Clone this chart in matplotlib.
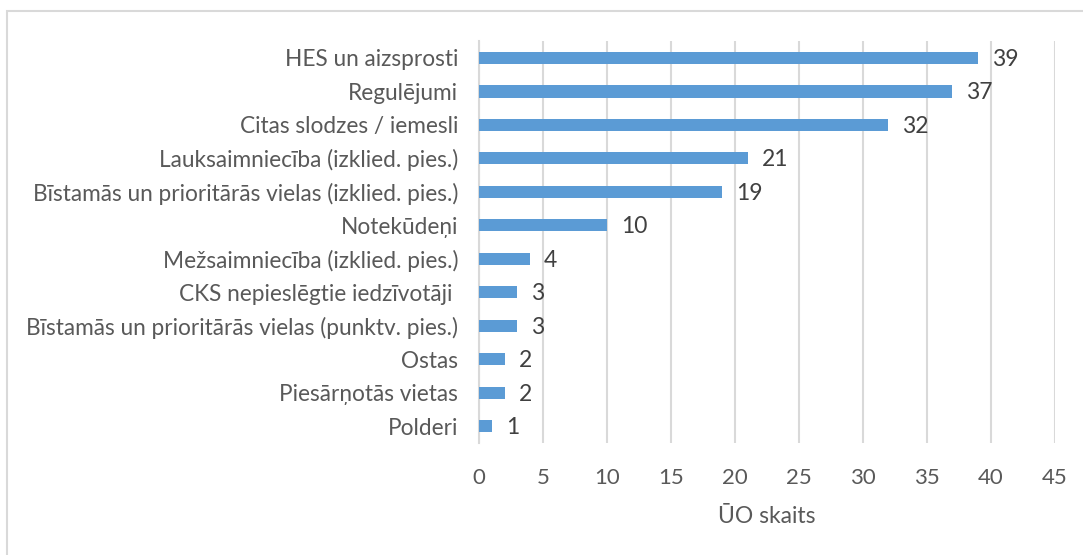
import numpy as np
import matplotlib
matplotlib.use("Agg")
import matplotlib.pyplot as plt
from matplotlib.patches import Rectangle

# data, top to bottom as in the chart
categories = [
    "HES un aizsprosti",
    "Regulējumi",
    "Citas slodzes / iemesli",
    "Lauksaimniecība (izklied. pies.)",
    "Bīstamās un prioritārās vielas (izklied. pies.)",
    "Notekūdeņi",
    "Mežsaimniecība (izklied. pies.)",
    "CKS nepieslēgtie iedzīvotāji ",
    "Bīstamās un prioritārās vielas (punktv. pies.)",
    "Ostas",
    "Piesārņotās vietas",
    "Polderi",
]
counts = [39, 37, 32, 21, 19, 10, 4, 3, 3, 2, 2, 1]
xticks = [0, 5, 10, 15, 20, 25, 30, 35, 40, 45]

plt.rcParams['font.family'] = ['Lato', 'DejaVu Sans']

fig = plt.figure(figsize=(10.83, 5.55), dpi=100)
ax = fig.add_axes([0.4423, 0.2018, 0.974 - 0.4423, 0.926 - 0.2018])

# outer frame like the office chart border
fig.patches.append(Rectangle((7 / 1083, -0.1), 1.2, 1 - 11 / 555 + 0.1,
                             transform=fig.transFigure, fill=False,
                             edgecolor='#d9d9d9', linewidth=1.5))

y = np.arange(len(categories))
ax.barh(y, counts, height=0.37, color='#5B9BD5', zorder=3)
for yi, v in zip(y, counts):
    ax.annotate(str(v), (v, yi), xytext=(10, -1), textcoords='offset points',
                va='center', ha='left', fontsize=16.5, color='#404040')

ax.set_ylim(len(categories) - 0.5, -0.5)
ax.set_xlim(0, 45)
ax.set_yticks(y)
ax.set_yticklabels(categories, fontsize=16.3, color='#595959')
ax.set_xticks(xticks)
ax.set_xticklabels([str(t) for t in xticks], fontsize=16, color='#595959')
ax.tick_params(axis='both', length=0)
ax.tick_params(axis='x', pad=18)
ax.tick_params(axis='y', pad=15)
ax.grid(axis='x', color='#d9d9d9', linewidth=1.5, zorder=0)
for s in ['top', 'right', 'bottom']:
    ax.spines[s].set_visible(False)
ax.spines['left'].set_color('#d9d9d9')
ax.spines['left'].set_linewidth(1.5)
ax.set_xlabel("ŪO skaits", fontsize=16.5, color='#595959', labelpad=13)

fig.savefig("out.png", dpi=100)
